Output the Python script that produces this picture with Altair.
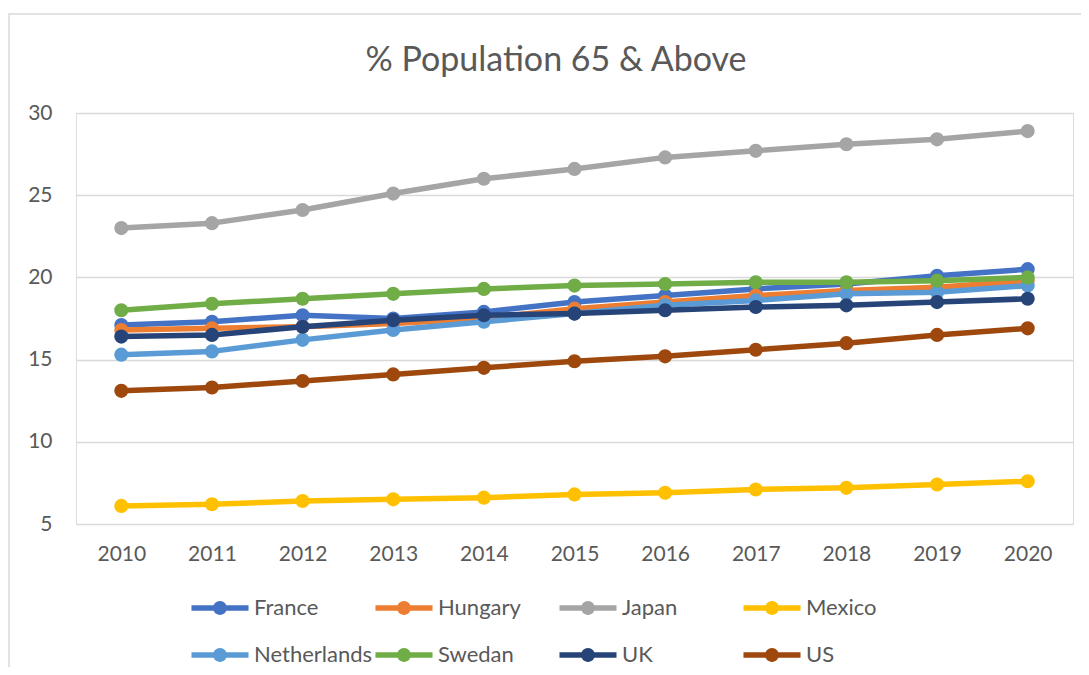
import altair as alt
import pandas as pd

years = [2010, 2011, 2012, 2013, 2014, 2015, 2016, 2017, 2018, 2019, 2020]
countries = ["France", "Hungary", "Japan", "Mexico", "Netherlands", "Swedan", "UK", "US"]
colors = ["#4472C4", "#ED7D31", "#A5A5A5", "#FFC000", "#5B9BD5", "#70AD47", "#264478", "#9E480E"]

france = [17.1, 17.3, 17.7, 17.5, 17.9, 18.5, 18.9, 19.3, 19.6, 20.1, 20.5]
hungary = [16.8, 16.9, 17.0, 17.2, 17.5, 18.1, 18.5, 18.9, 19.2, 19.4, 19.8]
japan = [23.0, 23.3, 24.1, 25.1, 26.0, 26.6, 27.3, 27.7, 28.1, 28.4, 28.9]
mexico = [6.1, 6.2, 6.4, 6.5, 6.6, 6.8, 6.9, 7.1, 7.2, 7.4, 7.6]
netherlands = [15.3, 15.5, 16.2, 16.8, 17.3, 17.8, 18.3, 18.6, 19.0, 19.1, 19.5]
swedan = [18.0, 18.4, 18.7, 19.0, 19.3, 19.5, 19.6, 19.7, 19.7, 19.8, 20.0]
uk = [16.4, 16.5, 17.0, 17.4, 17.7, 17.8, 18.0, 18.2, 18.3, 18.5, 18.7]
us = [13.1, 13.3, 13.7, 14.1, 14.5, 14.9, 15.2, 15.6, 16.0, 16.5, 16.9]

title_text = ["% Population 65 & Above"]

series = [france, hungary, japan, mexico, netherlands, swedan, uk, us]
rows = []
for c, vals in zip(countries, series):
    for yr, v in zip(years, vals):
        rows.append({"Year": str(yr), "Country": c, "Value": v})
df = pd.DataFrame(rows)

FONT = "Lato"
GRAY = "#595959"

color_scale = alt.Scale(domain=countries, range=colors)
x_enc = alt.X("Year:O", scale=alt.Scale(type="point", padding=0.5),
              axis=alt.Axis(title=None, labelAngle=0, domain=False, ticks=False,
                            labelPadding=19, labelFontSize=21, labelFont=FONT,
                            labelColor=GRAY, grid=False))
y_enc = alt.Y("Value:Q", scale=alt.Scale(domain=[5, 30], nice=False, zero=False),
              axis=alt.Axis(title=None, values=[5, 10, 15, 20, 25, 30], domain=False,
                            ticks=False, labelPadding=24, labelFontSize=21,
                            labelFont=FONT, labelColor=GRAY, grid=True,
                            gridColor="#d9d9d9", gridWidth=1.5))

sym = ("M-1.24,-0.12 L1.24,-0.12 L1.24,0.12 L-1.24,0.12 Z "
       "M0.3,0 A0.3,0.3 0 1,1 -0.3,0 A0.3,0.3 0 1,1 0.3,0 Z")

legend = alt.Legend(orient="none", legendX=121, legendY=472, columns=4,
                    direction="horizontal", title=None, symbolType=sym,
                    symbolSize=2116, symbolStrokeWidth=0, symbolOpacity=1,
                    labelFontSize=22, labelFont=FONT, labelColor=GRAY,
                    labelOffset=11, columnPadding=2, rowPadding=13,
                    gridAlign="all", labelLimit=300)

frame = alt.Chart(pd.DataFrame({"f": [0]})).mark_rect(
    fill="transparent", stroke="#d9d9d9", strokeWidth=1.5
).encode(x=alt.value(-67), x2=alt.value(1100), y=alt.value(-99), y2=alt.value(700))

title = alt.Chart(pd.DataFrame({"t": title_text})).mark_text(
    fontSize=34, font=FONT, color=GRAY, align="center", baseline="middle"
).encode(text="t:N", x=alt.value(480), y=alt.value(-52))

layers = [frame, title]
for c in countries:
    base = alt.Chart(df).transform_filter(alt.datum.Country == c)
    pts = base.mark_circle(size=200, opacity=1).encode(
        x=x_enc, y=y_enc,
        color=alt.Color("Country:N", scale=color_scale, legend=legend))
    line = base.mark_line(strokeWidth=5.5, strokeJoin="round", strokeCap="round").encode(
        x=x_enc, y=y_enc,
        color=alt.Color("Country:N", scale=color_scale, legend=legend))
    layers += [line, pts]

chart = alt.layer(*layers).properties(
    width=997, height=411,
    autosize=alt.AutoSizeParams(type="none"),
    padding={"left": 68, "top": 105, "right": 8, "bottom": 143},
).configure_view(stroke=None).configure(background="white")

chart.save("out.html", embed_options={"renderer": "svg", "actions": False})
